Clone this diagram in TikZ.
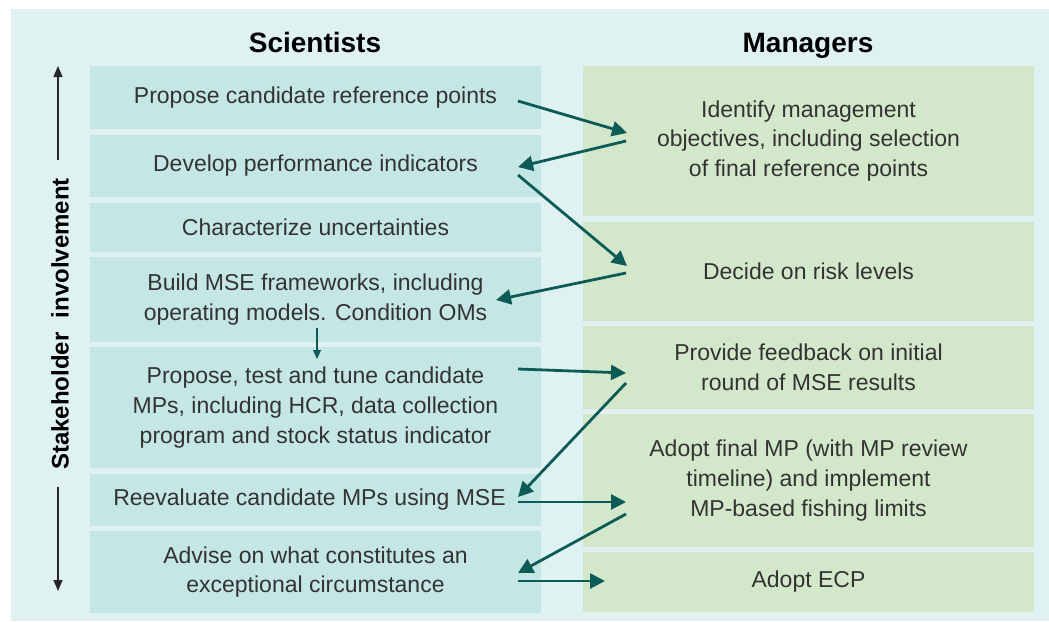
\documentclass[tikz,border=0pt]{standalone}
\usepackage{fontspec}
\setmainfont{Liberation Sans}
\usetikzlibrary{arrows.meta}
\definecolor{bgc}{HTML}{E0F1F1}
\definecolor{sci}{HTML}{C4E6E5}
\definecolor{man}{HTML}{D3E8CB}
\definecolor{arr}{HTML}{0D5B57}
\definecolor{txt}{HTML}{333333}
\tikzset{
  sbox/.style={fill=sci, draw=none},
  mbox/.style={fill=man, draw=none},
  lbl/.style={text=txt, align=center, font=\fontsize{23}{29.7}\selectfont, inner sep=0pt},
  head/.style={text=black, font=\fontsize{28}{32}\selectfont\bfseries, inner sep=0pt, anchor=base},
  flow/.style={draw=arr, line width=2.8pt, -{Triangle[length=15pt,width=15pt]}},
  side/.style={draw=black!85, line width=1.4pt, -{Triangle[length=11pt,width=9pt]}}
}
\begin{document}
\begin{tikzpicture}[x=1pt,y=-1pt]
\useasboundingbox (0,0) rectangle (1049,621);
\fill[white] (0,0) rectangle (1049,621);
\fill[bgc] (11,9) rectangle (1049,621);
% headers
\node[head] (hs) at (315,52) {Scientists};
\node[head] (hm) at (808,52) {Managers};
% scientist boxes
\path[sbox] (90,66) rectangle (541,129) node[midway, lbl] (s1) {Propose candidate reference points};
\path[sbox] (90,135) rectangle (541,197) node[midway, lbl] (s2) {Develop performance indicators};
\path[sbox] (90,203) rectangle (541,252) node[midway, lbl] (s3) {Characterize uncertainties};
\path[sbox] (90,257) rectangle (541,342) node[midway, lbl] (s4) {Build MSE frameworks, including\\operating models. Condition OMs};
\path[sbox] (90,347) rectangle (541,468) node[midway, lbl] (s5) {Propose, test and tune candidate\\MPs, including HCR, data collection\\program and stock status indicator};
\path[sbox] (90,474) rectangle (541,526) node[midway, lbl, xshift=-6pt] (s6) {Reevaluate candidate MPs using MSE};
\path[sbox] (90,531) rectangle (541,613) node[midway, lbl] (s7) {Advise on what constitutes an\\exceptional circumstance};
% manager boxes
\path[mbox] (583,66) rectangle (1034,216) node[midway, lbl] (m1) {Identify management\\objectives, including selection\\of final reference points};
\path[mbox] (583,222) rectangle (1034,321) node[midway, lbl] (m2) {Decide on risk levels};
\path[mbox] (583,326) rectangle (1034,409) node[midway, lbl] (m3) {Provide feedback on initial\\round of MSE results};
\path[mbox] (583,414) rectangle (1034,547) node[midway, lbl] (m4) {Adopt final MP (with MP review\\timeline) and implement\\MP-based fishing limits};
\path[mbox] (583,552) rectangle (1034,612) node[midway, lbl] (m5) {Adopt ECP};
% stakeholder axis
\node[rotate=90, font=\fontsize{24}{28}\selectfont\bfseries, inner sep=0pt] (sh) at (60,324) {Stakeholder\hspace{0.6em}involvement};
\coordinate (ups) at (58,160);
\coordinate (upt) at (58,66);
\coordinate (dns) at (58,487);
\coordinate (dnt) at (58,591);
\draw[side] (ups) -- (upt);
\draw[side] (dns) -- (dnt);
% arrow coordinates
\coordinate (a1s) at (518,101);
\coordinate (a1e) at (627,133);
\coordinate (a2s) at (626,141);
\coordinate (a2e) at (518,167);
\coordinate (a3s) at (518,175);
\coordinate (a3e) at (627,266);
\coordinate (a4s) at (626,273);
\coordinate (a4e) at (496,300);
\coordinate (a5s) at (518,369);
\coordinate (a5e) at (626,373);
\coordinate (a6s) at (626,383);
\coordinate (a6e) at (518,497);
\coordinate (a7s) at (518,502);
\coordinate (a7e) at (626,502);
\coordinate (a8s) at (626,514);
\coordinate (a8e) at (518,573);
\coordinate (a9s) at (518,581);
\coordinate (a9e) at (605,581);
\coordinate (d1s) at (317,328);
\coordinate (d1e) at (317,359);
\draw[flow] (a1s) -- (a1e);
\draw[flow] (a2s) -- (a2e);
\draw[flow] (a3s) -- (a3e);
\draw[flow] (a4s) -- (a4e);
\draw[flow] (a5s) -- (a5e);
\draw[flow] (a6s) -- (a6e);
\draw[flow] (a7s) -- (a7e);
\draw[flow] (a8s) -- (a8e);
\draw[flow] (a9s) -- (a9e);
\draw[draw=arr, line width=1.3pt, -{Triangle[length=9pt,width=8pt]}] (d1s) -- (d1e);
\end{tikzpicture}
\end{document}
